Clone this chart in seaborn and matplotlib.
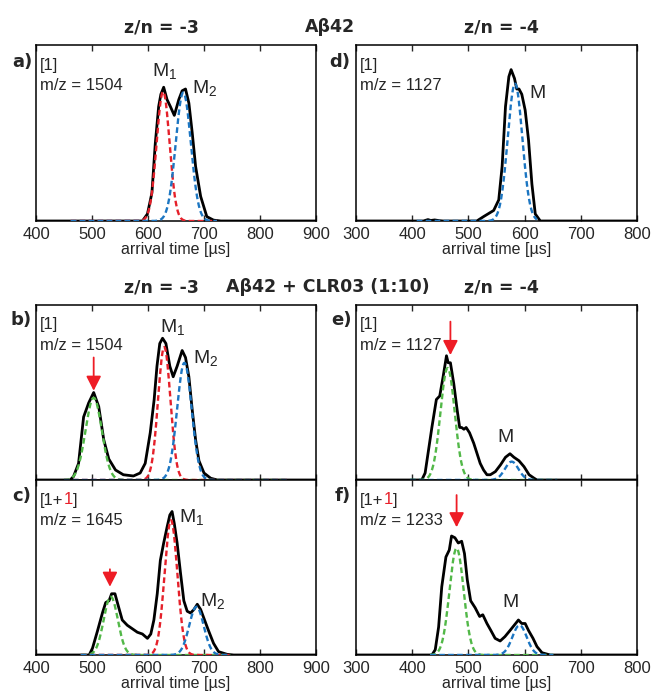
import numpy as np
import pandas as pd
import matplotlib
matplotlib.use('Agg')
import matplotlib.pyplot as plt
import seaborn as sns

sns.set_style('white')
plt.rcParams['font.family'] = ['Liberation Sans', 'DejaVu Sans']
plt.rcParams['mathtext.fontset'] = 'custom'
plt.rcParams['mathtext.rm'] = 'Liberation Sans'
plt.rcParams['mathtext.it'] = 'Liberation Sans'

RED = '#e5202a'
BLUE = '#1c76c2'
GREEN = '#52b848'

a_t = [400, 590, 599, 607, 613, 619, 623, 628, 634, 640, 647, 655, 661, 667, 673, 679, 685, 694, 705, 717, 730, 900]
a_i = [0, 0, 0.04, 0.16, 0.44, 0.65, 0.72, 0.76, 0.69, 0.65, 0.60, 0.69, 0.74, 0.75, 0.67, 0.50, 0.31, 0.14, 0.025, 0.005, 0, 0]

d_t = [300, 420, 428, 433, 440, 448, 455, 515, 527, 545, 554, 560, 566, 572, 576, 582, 586, 590, 595, 601, 607, 613, 619, 628, 800]
d_i = [0, 0, 0.008, 0.003, 0.006, 0.002, 0, 0, 0.025, 0.06, 0.12, 0.31, 0.65, 0.82, 0.86, 0.81, 0.75, 0.75, 0.72, 0.63, 0.46, 0.21, 0.04, 0, 0]

b_t = [400, 461, 467, 476, 485, 494, 503, 512, 521, 530, 542, 556, 574, 586, 595, 604, 611, 616, 621, 626,
       632, 639, 645, 652, 661, 667, 673, 679, 685, 691, 700, 712, 724, 900]
b_i = [0, 0, 0.02, 0.095, 0.36, 0.44, 0.50, 0.42, 0.23, 0.12, 0.057, 0.03, 0.023, 0.04, 0.095, 0.27, 0.46, 0.65, 0.78, 0.81,
       0.78, 0.65, 0.59, 0.65, 0.74, 0.70, 0.59, 0.40, 0.23, 0.11, 0.04, 0.01, 0, 0]

e_t = [300, 417, 423, 429, 435, 443, 449, 455, 461, 464, 468, 474, 480, 484.5, 488, 492, 496, 502, 509.5, 515.5,
       521, 527, 533, 539, 548, 557, 566, 574, 581, 590, 599, 608, 617, 622, 800]
e_i = [0, 0, 0.04, 0.17, 0.30, 0.46, 0.48, 0.59, 0.71, 0.67, 0.67, 0.55, 0.40, 0.30, 0.30, 0.29, 0.30, 0.27, 0.21, 0.15,
       0.095, 0.057, 0.03, 0.03, 0.048, 0.086, 0.13, 0.15, 0.13, 0.11, 0.076, 0.03, 0.01, 0, 0]

c_t = [400, 495, 501, 510, 518.6, 524.5, 530.5, 535, 541, 547, 554, 563, 572, 581, 590, 599, 605, 610.5, 616.5, 622,
       628, 634, 639, 643, 647, 652, 658, 664, 670, 676, 682, 688, 694, 701, 708, 717, 726, 741, 753, 900]
c_i = [0, 0, 0.04, 0.14, 0.24, 0.30, 0.31, 0.35, 0.35, 0.28, 0.20, 0.17, 0.15, 0.13, 0.12, 0.095, 0.12, 0.20, 0.35, 0.54,
       0.64, 0.73, 0.80, 0.82, 0.75, 0.64, 0.47, 0.31, 0.25, 0.24, 0.26, 0.29, 0.26, 0.20, 0.14, 0.067, 0.019, 0.004, 0, 0]

f_t = [300, 435, 441, 447, 452.6, 460, 466, 470, 476, 482, 488, 493, 498, 504, 512, 520, 525.6, 533, 540, 547.6,
       556.5, 565, 574, 581.5, 589, 595, 601, 607, 615, 622, 631, 645.6, 800]
f_i = [0, 0, 0.03, 0.16, 0.39, 0.56, 0.60, 0.68, 0.67, 0.64, 0.65, 0.58, 0.43, 0.31, 0.27, 0.22, 0.23, 0.18, 0.14, 0.095,
       0.08, 0.105, 0.14, 0.17, 0.20, 0.18, 0.18, 0.14, 0.095, 0.048, 0.013, 0, 0]

# gaussian fit components: colour, centre, sigma, height, drawn from, drawn to
a_fit = [(RED, 627, 11.5, 0.735, 462, 723), (BLUE, 663, 13.5, 0.73, 462, 723)]
d_fit = [(BLUE, 583, 13, 0.78, 408, 622)]
b_fit = [(GREEN, 503, 14.5, 0.47, 450, 850), (RED, 629, 11, 0.76, 450, 850), (BLUE, 665, 13, 0.67, 450, 850)]
e_fit = [(GREEN, 463, 12.7, 0.64, 396, 658), (BLUE, 577, 12, 0.105, 396, 658)]
c_fit = [(GREEN, 533.5, 12.6, 0.333, 480, 747), (RED, 641, 11.4, 0.77, 480, 747), (BLUE, 686.5, 13, 0.276, 480, 747)]
f_fit = [(GREEN, 479, 12.6, 0.61, 432, 651), (BLUE, 591, 12.7, 0.17, 432, 651)]

left_ticks = [400, 500, 600, 700, 800, 900]
right_ticks = [300, 400, 500, 600, 700, 800]

fig = plt.figure(figsize=(6.55, 6.93), dpi=100)

def px_axes(l, t, r, b):
    return fig.add_axes([l / 655, 1 - b / 693, (r - l) / 655, (b - t) / 693])

panels = [
    # axes, t, i, fits, ticks, red "+1", m/z, M labels, arrow, tick labels, xlabel y
    (px_axes(36, 45, 316, 221), a_t, a_i, a_fit, left_ticks, False, '1504',
     [('M$_1$', 608, 0.85), ('M$_2$', 679, 0.755)], None, True, -0.118),
    (px_axes(356, 45, 637, 221), d_t, d_i, d_fit, right_ticks, False, '1127',
     [('M', 608, 0.727)], None, True, -0.118),
    (px_axes(36, 305, 316, 480), b_t, b_i, b_fit, left_ticks, False, '1504',
     [('M$_1$', 621, 0.875), ('M$_2$', 680, 0.70)], (503, 0.70, 0.51), False, None),
    (px_axes(356, 305, 637, 480), e_t, e_i, e_fit, right_ticks, False, '1127',
     [('M', 551, 0.24)], (468, 0.905, 0.714), False, None),
    (px_axes(36, 480, 316, 655), c_t, c_i, c_fit, left_ticks, True, '1645',
     [('M$_1$', 656, 0.79), ('M$_2$', 692, 0.31)], (532, 0.49, 0.39), True, -0.118),
    (px_axes(356, 480, 637, 655), f_t, f_i, f_fit, right_ticks, True, '1233',
     [('M', 561, 0.30)], (479, 0.914, 0.73), True, -0.118),
]

for ax, t, i, fits, ticks, plus, mz, labels, arrow, showlab, laby in panels:
    df = pd.DataFrame({'t': t, 'i': i})
    sns.lineplot(data=df, x='t', y='i', ax=ax, color='black', lw=2.0,
                 estimator=None, sort=False, zorder=3)
    for col, mu, sig, h, lo, hi in fits:
        xg = np.linspace(lo, hi, 300)
        yg = h * np.exp(-(xg - mu) ** 2 / (2 * sig ** 2))
        sns.lineplot(x=xg, y=yg, ax=ax, color=col, lw=1.7,
                     estimator=None, sort=False, zorder=4).lines[-1].set_dashes((2.4, 1.4))
    ax.set_xlim(ticks[0], ticks[-1])
    ax.set_ylim(0, 1)
    ax.set_yticks([])
    ax.set_xticks(ticks)
    ax.tick_params(axis='x', direction='in', top=True, bottom=True, length=4, width=1,
                   labelsize=12, pad=4, labelbottom=showlab)
    for s in ax.spines.values():
        s.set_visible(True)
        s.set_linewidth(1.1)
        s.set_color('black')
    ax.set_ylabel('')
    if showlab:
        ax.set_xlabel('arrival time [µs]', fontsize=11.5)
        ax.xaxis.set_label_coords(0.5, laby)
    else:
        ax.set_xlabel('')

    if plus:
        t1 = ax.text(0.015, 0.86, '[1+', transform=ax.transAxes, fontsize=12, va='baseline')
        t2 = ax.annotate('1', xy=(1, 0), xycoords=t1, fontsize=12, color='#e8202a', va='bottom')
        ax.annotate(']', xy=(1, 0), xycoords=t2, fontsize=12, va='bottom')
    else:
        ax.text(0.015, 0.86, '[1]', transform=ax.transAxes, fontsize=12, va='baseline')
    ax.text(0.015, 0.745, 'm/z = ' + mz, transform=ax.transAxes, fontsize=12, va='baseline')

    for lab, x, y in labels:
        ax.text(x, y, lab, transform=ax.get_xaxis_transform(), fontsize=14, va='center', ha='left')

    if arrow is not None:
        x, tail, tip = arrow
        ax.annotate('', xy=(x, tip), xytext=(x, tail), xycoords=('data', 'axes fraction'),
                    textcoords=('data', 'axes fraction'),
                    arrowprops=dict(arrowstyle='-|>,head_length=0.55,head_width=0.28', color='#ee1c25',
                                    lw=1.3, mutation_scale=16, shrinkA=0, shrinkB=0), zorder=6)

# panel letters
for lab, x, y in [('a)', 22, 62), ('b)', 21, 320), ('c)', 22, 496),
                  ('d)', 340, 62), ('e)', 341, 320), ('f)', 343, 496)]:
    fig.text(x / 655, 1 - y / 693, lab, fontsize=13, fontweight='bold', ha='center', va='center',
             family='DejaVu Sans')

# row headings
for txt, x, y in [('z/n = -3', 161, 27), ('Aβ42', 330, 27), ('z/n = -4', 501, 27),
                  ('z/n = -3', 161, 287), ('Aβ42 + CLR03 (1:10)', 328, 287), ('z/n = -4', 501, 287)]:
    fig.text(x / 655, 1 - y / 693, txt, fontsize=12.5, fontweight='bold', ha='center', va='center',
             family='DejaVu Sans')

fig.savefig('out.png', dpi=100)
